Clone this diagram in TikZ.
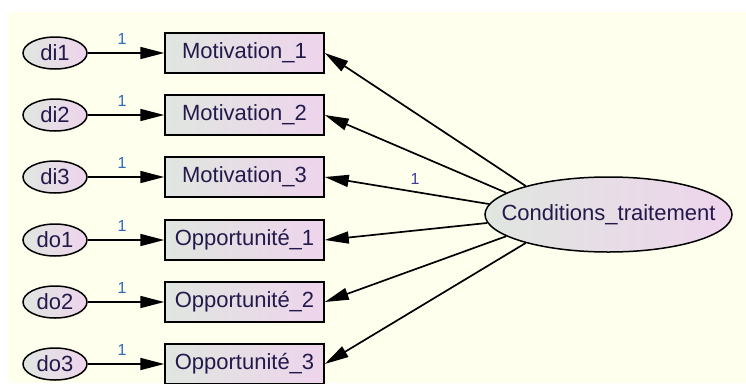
\documentclass[tikz,border=0pt]{standalone}
\usepackage{fontspec}
\setmainfont{Liberation Sans}
\usepackage{tikz}
\usetikzlibrary{arrows.meta,positioning,shapes.geometric}

\definecolor{paper}{RGB}{255,255,238}
\definecolor{shadeL}{RGB}{224,230,224}
\definecolor{shadeR}{RGB}{238,212,236}
\definecolor{ink}{RGB}{35,25,75}
\definecolor{wtblue}{RGB}{45,105,185}
\definecolor{wtdark}{RGB}{60,60,150}

\begin{document}
\begin{tikzpicture}[x=1pt, y=-1pt,
    err/.style={draw, ellipse, line width=1.5pt, minimum width=64pt,
                minimum height=32pt, inner sep=0pt, left color=shadeL,
                right color=shadeR, text=ink, font=\fontsize{22}{24}\selectfont},
    obs/.style={draw, line width=1.5pt, minimum width=159pt,
                minimum height=40pt, inner sep=0pt, left color=shadeL,
                right color=shadeR, text=ink, font=\fontsize{22}{24}\selectfont},
    latent/.style={draw, ellipse, line width=1.5pt, minimum width=247pt,
                   minimum height=75pt, inner sep=0pt, left color=shadeL,
                   right color=shadeR, text=ink, font=\fontsize{22}{24}\selectfont},
    flow/.style={line width=1.7pt, -{Triangle[length=24pt, width=12pt]}},
    wt/.style={font=\fontsize{16}{17}\selectfont, text=wtblue, inner sep=1pt},
]

% === Canvas ===
\useasboundingbox (0,0) rectangle (746,383);
\fill[white] (0,0) rectangle (746,383);
\fill[paper] (8,12) rectangle (746,383);

% === Indicators and their error terms ===
\foreach \n/\y/\lab/\e in {1/53/Motivation\_1/di1, 2/115/Motivation\_2/di2,
                           3/177/Motivation\_3/di3, 4/240/Opportunité\_1/do1,
                           5/302/Opportunité\_2/do2, 6/364/Opportunité\_3/do3} {
  \node[obs] (v\n) at (244.5, \y) {\lab};
  \node[err] (e\n) at (55, \y) {\e};
  \draw[flow] (e\n.east) -- node[wt, pos=0.45, above=7pt] {1} (v\n.west);
}

% === Latent factor ===
\node[latent] (cond) at (608.5, 214.5) {\makebox[0pt]{Conditions\_traitement}};

% === Loadings ===
\foreach \n/\a in {1/161, 2/168, 4/184.5, 5/192, 6/199}
  \draw[flow] (cond.\a) -- (v\n.east);
\draw[flow] (cond.175.5) -- node[wt, text=wtdark, pos=0.45, above=6pt] {1} (v3.east);

\end{tikzpicture}
\end{document}
